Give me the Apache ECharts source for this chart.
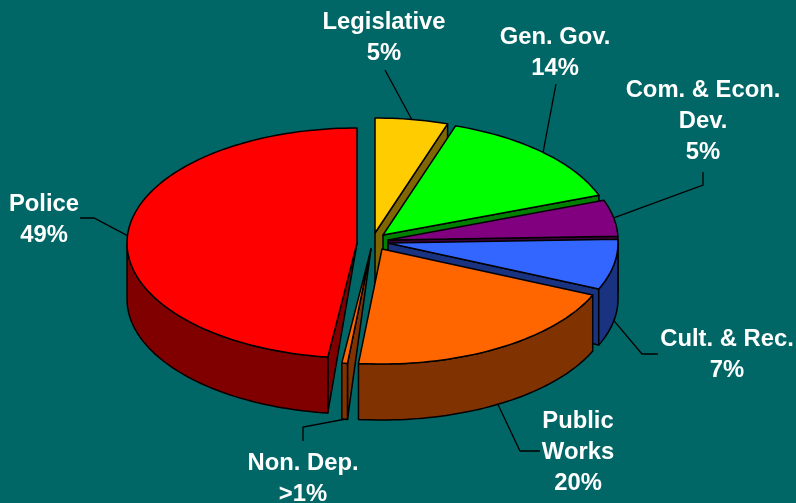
<!DOCTYPE html>
<html>
<head>
<meta charset="utf-8">
<style>html,body{margin:0;padding:0;background:#006666}#chart{width:796px;height:503px}</style>
<script src="https://cdn.jsdelivr.net/npm/echarts@6/dist/echarts.min.js"></script>
</head>
<body>
<div id="chart"></div>
<script>
// Budget shares, clockwise from twelve o'clock
const categories = ['Legislative', 'Gen. Gov.', 'Com. & Econ.\nDev.', 'Cult. & Rec.', 'Public\nWorks', 'Non. Dep.', 'Police'];
const shares = [5, 14, 5, 7, 20, 0.4, 49];
const shareLabels = ['5%', '14%', '5%', '7%', '20%', '>1%', '49%'];

// Slice colours
const topColors = ['#FFCC00', '#00FF00', '#800080', '#3366FF', '#FF6600', '#FF6600', '#FF0000'];
const sideColors = ['#806600', '#008000', '#400040', '#1A3380', '#803300', '#803300', '#800000'];

// Exploded position of each slice's tip, label centre and leader elbows
const tips = [[375, 233], [383, 235], [388, 240], [388, 243], [382, 249], [371, 249], [357, 243]];
const labelCentres = [[384, 38], [555, 53], [703, 121], [727, 355], [578, 452], [303, 479], [44, 220]];
const elbows = [
  [[385, 70]],
  [[556, 84]],
  [[703, 185], [703, 172]],
  [[642, 354], [658, 354]],
  [[520, 451], [540, 451]],
  [[303, 427], [303, 441]],
  [[94, 218], [80, 218]]
];
const paintOrder = [0, 1, 2, 3, 6, 5, 4];

const RX = 230, RY = 115, DEPTH = 56;
// Viewing perspective stretches the near half of the disc
const PERSPECTIVE_DEG = 3;
const total = shares.reduce((a, b) => a + b, 0);

function project(deg) {
  return deg + PERSPECTIVE_DEG * Math.sin(deg / 2 * Math.PI / 180);
}
function rim(tip, deg, drop) {
  const r = deg * Math.PI / 180;
  return [tip[0] + RX * Math.sin(r), tip[1] - RY * Math.cos(r) + (drop || 0)];
}
function arc(tip, from, to, drop) {
  const pts = [];
  const n = Math.max(2, Math.ceil(Math.abs(to - from) / 1.5));
  for (let i = 0; i <= n; i++) pts.push(rim(tip, from + (to - from) * i / n, drop));
  return pts;
}
function face(points, fill, z) {
  return {
    type: 'polygon', z2: z,
    shape: { points },
    style: { fill, stroke: '#000', lineWidth: 1.5, lineJoin: 'round' }
  };
}

function renderSlice(params, api) {
  const i = params.dataIndex;
  let before = 0;
  for (let k = 0; k < i; k++) before += shares[k];
  const start = project(before / total * 360);
  const end = project((before + api.value(0)) / total * 360);
  const mid = (start + end) / 2;
  const tip = tips[i];
  const order = paintOrder.indexOf(i) * 10;
  const side = sideColors[i];
  const children = [];

  // Radial wall on the clockwise side, visible in the upper half
  if (end < 180) {
    const e = rim(tip, end);
    children.push(face([tip, e, rim(tip, end, DEPTH), [tip[0], tip[1] + DEPTH]], side, order + 1));
  }
  // Radial wall on the anticlockwise side, visible past six o'clock
  if (start > 180) {
    children.push(face([tip, rim(tip, start), rim(tip, start, DEPTH)], side, order + 1));
  }
  // Outer wall where the rim faces the viewer
  const a = Math.max(start, 90), b = Math.min(end, 270);
  if (b > a) {
    children.push(face(arc(tip, a, b).concat(arc(tip, b, a, DEPTH)), side, order + 2));
  }
  // Top face
  children.push(face([tip].concat(arc(tip, start, end)), topColors[i], order + 3));

  // Leader from the slice rim to its label
  const front = mid > 90 && mid < 270;
  children.push({
    type: 'polyline', z2: 90,
    shape: { points: [rim(tip, mid, front ? DEPTH : 0)].concat(elbows[i]) },
    style: { fill: 'none', stroke: '#000', lineWidth: 1.3 }
  });

  // Label
  children.push({
    type: 'text', z2: 100,
    x: labelCentres[i][0], y: labelCentres[i][1],
    style: {
      text: categories[i] + '\n' + shareLabels[i],
      fill: '#fff',
      font: 'bold 23.8px "Liberation Sans", Arial, sans-serif',
      lineHeight: 31,
      align: 'center',
      verticalAlign: 'middle'
    }
  });
  return { type: 'group', children };
}

const chart = echarts.init(document.getElementById('chart'), null, { renderer: 'canvas' });
chart.setOption({
  backgroundColor: '#006666',
  animation: false,
  series: [{
    type: 'custom',
    coordinateSystem: 'none',
    clip: false,
    silent: true,
    renderItem: renderSlice,
    data: shares.map((v, i) => ({ name: categories[i], value: [v] }))
  }]
});
</script>
</body>
</html>
